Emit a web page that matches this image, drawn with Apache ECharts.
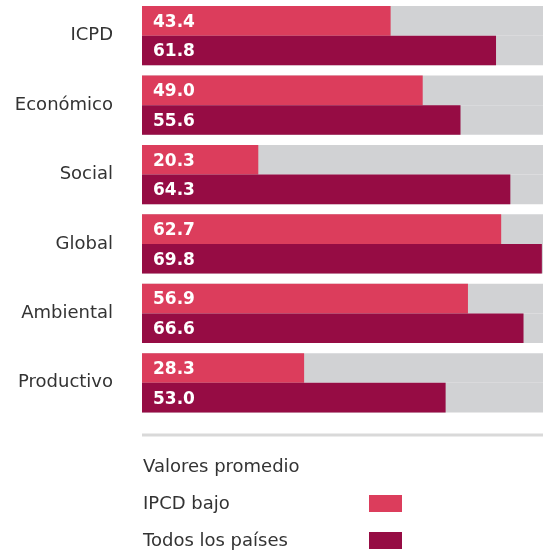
<!DOCTYPE html>
<html><head><meta charset="utf-8">
<script src="https://cdn.jsdelivr.net/npm/echarts@6/dist/echarts.min.js"></script>
<style>html,body{margin:0;padding:0;background:#fff}#c{width:543px;height:552px}</style>
</head><body><div id="c"></div>
<script>
const categories = ['ICPD', 'Económico', 'Social', 'Global', 'Ambiental', 'Productivo'];
const ipcdBajo = [43.4, 49.0, 20.3, 62.7, 56.9, 28.3];
const todosPaises = [61.8, 55.6, 64.3, 69.8, 66.6, 53.0];
const seriesNames = ['IPCD bajo', 'Todos los países'];
const legendTitle = 'Valores promedio';
const colors = ['#dc3d5c', '#960c44'];
const FONT = '"DejaVu Sans", sans-serif';

const chart = echarts.init(document.getElementById('c'), null, {renderer: 'canvas'});
const mkSeries = (name, data, color) => ({
  name, type: 'bar', data,
  barGap: '0%', barCategoryGap: '14.7%',
  itemStyle: {color},
  showBackground: true,
  backgroundStyle: {color: '#d1d2d4'},
  label: {
    show: true, position: 'insideLeft', distance: 11, offset: [0, 1.5],
    color: '#fff', fontWeight: 'bold', fontSize: 17, fontFamily: FONT,
    formatter: p => p.value.toFixed(1)
  },
  animation: false
});
chart.setOption({
  animation: false,
  grid: {left: 142, top: 1, width: 401, height: 416.5, containLabel: false},
  xAxis: {type: 'value', min: 0, max: 70, show: false},
  yAxis: {
    type: 'category', data: categories, inverse: true,
    axisLine: {show: false}, axisTick: {show: false},
    axisLabel: {color: '#333', fontSize: 18, fontFamily: FONT, margin: 29, padding: [0, 0, 5, 0]}
  },
  series: [mkSeries(seriesNames[0], ipcdBajo, colors[0]), mkSeries(seriesNames[1], todosPaises, colors[1])],
  graphic: [
    {type: 'rect', shape: {x: 142, y: 433.5, width: 401, height: 3}, style: {fill: '#d9d9d9'}},
    {type: 'text', x: 143, y: 467, style: {text: legendTitle, fill: '#333', font: '18px ' + FONT, textVerticalAlign: 'middle'}},
    {type: 'text', x: 143, y: 504, style: {text: seriesNames[0], fill: '#333', font: '18px ' + FONT, textVerticalAlign: 'middle'}},
    {type: 'text', x: 143, y: 541, style: {text: seriesNames[1], fill: '#333', font: '18px ' + FONT, textVerticalAlign: 'middle'}},
    {type: 'rect', shape: {x: 369, y: 495, width: 33, height: 17}, style: {fill: colors[0]}},
    {type: 'rect', shape: {x: 369, y: 532, width: 33, height: 17}, style: {fill: colors[1]}}
  ]
});
</script></body></html>
